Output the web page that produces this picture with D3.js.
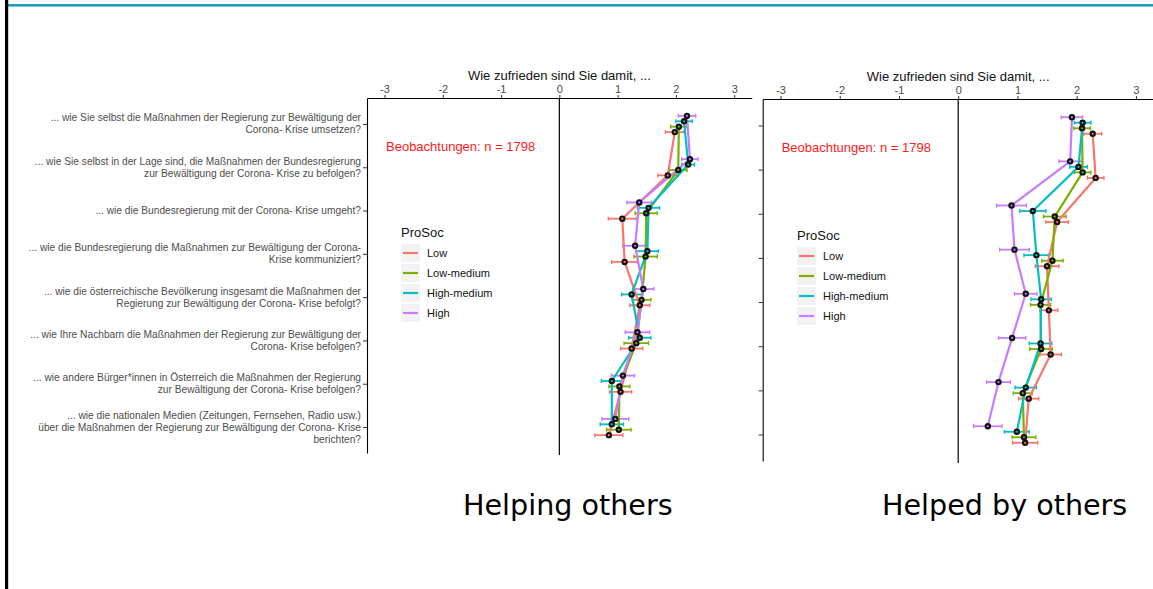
<!DOCTYPE html>
<html>
<head>
<meta charset="utf-8">
<script src="https://cdn.jsdelivr.net/npm/d3@7/dist/d3.min.js"></script>
<style>
  html, body { margin: 0; padding: 0; background: #fff; }
  svg { display: block; }
  text { font-family: "Liberation Sans", Arial, sans-serif; }
</style>
</head>
<body>
<svg id="chart" width="1153" height="589"></svg>
<script>
// Survey items (y axis), one entry per question, split into display lines
const questions = [
  ["... wie Sie selbst die Maßnahmen der Regierung zur Bewältigung der", "Corona- Krise umsetzen?"],
  ["... wie Sie selbst in der Lage sind, die Maßnahmen der Bundesregierung", "zur Bewältigung der Corona- Krise zu befolgen?"],
  ["... wie die Bundesregierung mit der Corona- Krise umgeht?"],
  ["... wie die Bundesregierung die Maßnahmen zur Bewältigung der Corona-", "Krise kommuniziert?"],
  ["... wie die österreichische Bevölkerung insgesamt die Maßnahmen der", "Regierung zur Bewältigung der Corona- Krise befolgt?"],
  ["... wie Ihre Nachbarn die Maßnahmen der Regierung zur Bewältigung der", "Corona- Krise befolgen?"],
  ["... wie andere Bürger*innen in Österreich die Maßnahmen der Regierung", "zur Bewältigung der Corona- Krise befolgen?"],
  ["... wie die nationalen Medien (Zeitungen, Fernsehen, Radio usw.)", "über die Maßnahmen der Regierung zur Bewältigung der Corona- Krise", "berichten?"]
];

const groups = ["Low", "Low-medium", "High-medium", "High"];
const groupColors = ["#F8766D", "#7CAE00", "#00BFC4", "#C77CFF"];
const xTicks = [-3, -2, -1, 0, 1, 2, 3];
const xTickLabels = ["-3", "-2", "-1", "0", "1", "2", "3"];

// Helping others: mean satisfaction per ProSoc group
const helpingLow        = [1.98, 1.86, 1.08, 1.12, 1.38, 1.24, 1.05, 0.85];
const helpingLowMedium  = [2.05, 2.04, 1.49, 1.48, 1.41, 1.32, 1.03, 1.02];
const helpingHighMedium = [2.14, 2.21, 1.53, 1.51, 1.24, 1.38, 0.90, 0.90];
const helpingHigh       = [2.19, 2.24, 1.37, 1.30, 1.44, 1.34, 1.09, 0.96];
// Helping others: half-width of the confidence intervals
const helpingLowErr        = [0.16, 0.17, 0.24, 0.22, 0.17, 0.19, 0.19, 0.24];
const helpingLowMediumErr  = [0.14, 0.15, 0.19, 0.20, 0.16, 0.21, 0.18, 0.21];
const helpingHighMediumErr = [0.14, 0.11, 0.19, 0.19, 0.17, 0.19, 0.18, 0.20];
const helpingHighErr       = [0.15, 0.14, 0.21, 0.21, 0.18, 0.21, 0.20, 0.23];

// Helped by others: mean satisfaction per ProSoc group
const helpedLow        = [2.27, 2.32, 1.67, 1.50, 1.53, 1.56, 1.19, 1.13];
const helpedLowMedium  = [2.09, 2.10, 1.63, 1.59, 1.39, 1.40, 1.09, 1.11];
const helpedHighMedium = [2.10, 2.03, 1.26, 1.32, 1.40, 1.39, 1.14, 0.99];
const helpedHigh       = [1.92, 1.89, 0.90, 0.95, 1.14, 0.91, 0.68, 0.50];
// Helped by others: half-width of the confidence intervals
const helpedLowErr        = [0.15, 0.14, 0.19, 0.20, 0.15, 0.18, 0.17, 0.21];
const helpedLowMediumErr  = [0.14, 0.14, 0.19, 0.18, 0.17, 0.19, 0.16, 0.20];
const helpedHighMediumErr = [0.14, 0.15, 0.22, 0.21, 0.17, 0.19, 0.18, 0.21];
const helpedHighErr       = [0.18, 0.19, 0.25, 0.25, 0.19, 0.23, 0.20, 0.24];

const axisTitle = "Wie zufrieden sind Sie damit, ...";
const noteText = "Beobachtungen: n = 1798";
const legendTitle = "ProSoc";
const panelTitles = ["Helping others", "Helped by others"];

const svg = d3.select("#chart");
svg.append("rect").attr("width", 1153).attr("height", 589).attr("fill", "#fff");

// page frame: teal rule at the top, black bar at the left
svg.append("rect").attr("x", 8).attr("y", 4).attr("width", 1145).attr("height", 2.6).attr("fill", "#1f9bc2");
svg.append("rect").attr("x", 5).attr("y", 0).attr("width", 3.2).attr("height", 589).attr("fill", "#000");

const qIdx = d3.range(questions.length);

const panels = [
  {
    x0: 367, x1: 751.7, y0: 98, y1: 453, showLabels: true,
    means: [helpingLow, helpingLowMedium, helpingHighMedium, helpingHigh],
    errs: [helpingLowErr, helpingLowMediumErr, helpingHighMediumErr, helpingHighErr],
    legendX: 401, legendY: 232, noteY: 151,
    caption: panelTitles[0], captionX: 463
  },
  {
    x0: 762.7, x1: 1153.7, y0: 99, y1: 461, showLabels: false,
    means: [helpedLow, helpedLowMedium, helpedHighMedium, helpedHigh],
    errs: [helpedLowErr, helpedLowMediumErr, helpedHighMediumErr, helpedHighErr],
    legendX: 797, legendY: 235, noteY: 152,
    caption: panelTitles[1], captionX: 882
  }
];

// vertical dodge of the four groups around each question (fraction of the band step)
const dodge = [0.1875, 0.0625, -0.0625, -0.1875];

panels.forEach(p => {
  const g = svg.append("g");
  const x = d3.scaleLinear().domain([-3.3, 3.3]).range([p.x0, p.x1]);
  const y = d3.scalePoint().domain(qIdx).range([p.y0, p.y1]).padding(0.6);
  const step = y.step();

  // top axis
  const xAxis = g.append("g")
    .attr("transform", `translate(0,${p.y0})`)
    .call(d3.axisTop(x).tickValues(xTicks).tickSize(3).tickSizeOuter(0).tickPadding(2)
      .tickFormat((d, i) => xTickLabels[i]));
  xAxis.select(".domain").attr("stroke", "#000").attr("stroke-width", 1.1);
  xAxis.selectAll(".tick line").attr("stroke", "#333");
  xAxis.selectAll(".tick text")
    .attr("fill", "#4d4d4d").style("font-size", "11px")
    .style("font-family", "'Liberation Sans', Arial, sans-serif");

  g.append("text")
    .attr("x", x(0)).attr("y", p.y0 - 18)
    .attr("text-anchor", "middle")
    .style("font-size", "13px").attr("fill", "#111")
    .text(axisTitle);

  // left axis
  const yAxis = g.append("g")
    .attr("transform", `translate(${p.x0},0)`)
    .call(d3.axisLeft(y).tickSize(4).tickSizeOuter(0).tickFormat(""));
  yAxis.select(".domain").attr("stroke", "#000").attr("stroke-width", 1.1);
  yAxis.selectAll(".tick line").attr("stroke", "#333");

  if (p.showLabels) {
    const lh = 12;
    qIdx.forEach(i => {
      const lines = questions[i];
      const t = g.append("text")
        .attr("text-anchor", "end")
        .attr("fill", "#4d4d4d")
        .style("font-size", "10.2px");
      lines.forEach((ln, k) => {
        t.append("tspan")
          .attr("x", p.x0 - 6)
          .attr("y", y(i) + (k - (lines.length - 1) / 2) * lh + 3.5)
          .text(ln);
      });
    });
  }

  // zero reference line
  g.append("line")
    .attr("x1", x(0)).attr("x2", x(0))
    .attr("y1", p.y0).attr("y2", p.y1 + 2)
    .attr("stroke", "#000").attr("stroke-width", 1.2);

  // sample size note
  g.append("text")
    .attr("x", x(-3.3) + 19).attr("y", p.noteY)
    .attr("fill", "#ff1a1a")
    .style("font-size", "13px")
    .text(noteText);

  const yPos = (gi, i) => y(i) + dodge[gi] * step;

  groups.forEach((grp, gi) => {
    const col = groupColors[gi];
    const m = p.means[gi], e = p.errs[gi];
    // confidence intervals
    qIdx.forEach(i => {
      const yy = yPos(gi, i);
      const xl = x(m[i] - e[i]), xr = x(m[i] + e[i]);
      g.append("line").attr("x1", xl).attr("x2", xr).attr("y1", yy).attr("y2", yy)
        .attr("stroke", col).attr("stroke-width", 1.8);
      [xl, xr].forEach(xx => g.append("line")
        .attr("x1", xx).attr("x2", xx).attr("y1", yy - 2).attr("y2", yy + 2)
        .attr("stroke", col).attr("stroke-width", 1.4));
    });
  });

  groups.forEach((grp, gi) => {
    const col = groupColors[gi];
    const m = p.means[gi];
    const line = d3.line().x(i => x(m[i])).y(i => yPos(gi, i));
    g.append("path").attr("d", line(qIdx))
      .attr("fill", "none").attr("stroke", col).attr("stroke-width", 2.2)
      .attr("stroke-linejoin", "round");
  });

  groups.forEach((grp, gi) => {
    const col = groupColors[gi];
    const m = p.means[gi];
    qIdx.forEach(i => {
      const cx = x(m[i]), cy = yPos(gi, i);
      g.append("circle").attr("cx", cx).attr("cy", cy).attr("r", 3.2).attr("fill", "#111");
      g.append("circle").attr("cx", cx).attr("cy", cy).attr("r", 1.1).attr("fill", col);
    });
  });

  // legend
  const lg = g.append("g").attr("transform", `translate(${p.legendX},${p.legendY})`);
  lg.append("text").attr("x", 0).attr("y", 4.5)
    .style("font-size", "13px").attr("fill", "#111").text(legendTitle);
  groups.forEach((grp, gi) => {
    const cy = 21 + gi * 20;
    lg.append("rect").attr("x", 0).attr("y", cy - 9).attr("width", 19).attr("height", 18).attr("fill", "#f2f2f2");
    lg.append("line").attr("x1", 2).attr("x2", 17).attr("y1", cy).attr("y2", cy)
      .attr("stroke", groupColors[gi]).attr("stroke-width", 2.2);
    lg.append("text").attr("x", 26).attr("y", cy + 4)
      .style("font-size", "11px").attr("fill", "#111").text(grp);
  });

  // panel caption
  svg.append("text")
    .attr("x", p.captionX).attr("y", 515)
    .style("font-family", "'DejaVu Sans', sans-serif")
    .style("font-size", "28.6px").attr("fill", "#000")
    .text(p.caption);
});
</script>
</body>
</html>
